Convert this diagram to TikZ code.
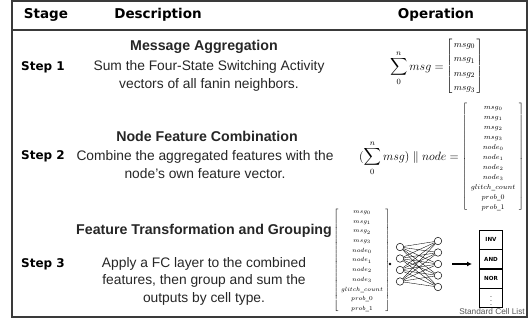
\documentclass[tikz,border=0pt]{standalone}
\usepackage{amsmath}
\usepackage[no-math]{fontspec}
\usetikzlibrary{arrows.meta,positioning}
\setmainfont{Liberation Sans}
\newfontfamily\verdfont{DejaVu Sans}
\definecolor{framegray}{HTML}{3A3A3A}
\definecolor{labelgray}{HTML}{555555}
\tikzset{
  frameline/.style={draw=framegray, line width=1.3pt},
  hdr/.style={font=\verdfont\bfseries\fontsize{13.5}{15}\selectfont, inner sep=0pt},
  steplbl/.style={font=\verdfont\bfseries\fontsize{12}{14}\selectfont, inner sep=0pt, anchor=west},
  ttl/.style={font=\bfseries\fontsize{14.2}{16}\selectfont, inner sep=0pt, text=black!85},
  dsc/.style={font=\fontsize{13.8}{17.5}\selectfont, align=center, inner sep=0pt, text=black!85},
  mth/.style={inner sep=0pt},
  neuron/.style={circle, draw, line width=0.5pt, minimum size=7.5pt, inner sep=0pt},
  cellbox/.style={draw, line width=0.5pt, minimum width=23pt, minimum height=19pt, inner sep=0pt,
    font=\verdfont\bfseries\fontsize{5.6}{6}\selectfont},
  wire/.style={line width=0.35pt},
}
% column vector of node features: #1 font size, #2 row height, #3 side padding
\newcommand{\featvec}[3]{%
  \fontsize{#1}{#2}\selectfont
  $\left[\begin{array}{@{\hspace{#3}}c@{\hspace{#3}}}
  msg_0\\ msg_1\\ msg_2\\ msg_3\\ node_0\\ node_1\\ node_2\\ node_3\\
  glitch\_count\\ prob\_0\\ prob\_1
  \end{array}\right]$}
\begin{document}
\begin{tikzpicture}[x=1pt,y=-1pt]
\useasboundingbox (0,0) rectangle (528,322);
% outer frame and header rule
\draw[frameline] (12,1) rectangle (527,317);
\draw[frameline] (12,30) -- (527,30);

% header
\node[hdr] (hstage) at (46,15) {Stage};
\node[hdr] (hdesc) at (158,15) {Description};
\node[hdr] (hop) at (436,15) {Operation};

% step labels
\node[steplbl] (s1) at (21,67) {Step 1};
\node[steplbl] (s2) at (21,156) {Step 2};
\node[steplbl] (s3) at (21,264) {Step 3};

% descriptions
\node[ttl] (t1) at (204,46.5) {Message Aggregation};
\node[dsc] (d1) at (209,75.75) {Sum the Four-State Switching Activity\\vectors of all fanin neighbors.};
\node[ttl] (t2) at (207,136) {Node Feature Combination};
\node[dsc] (d2) at (205,164.75) {Combine the aggregated features with the\\node's own feature vector.};
\node[ttl] (t3) at (204,231) {Feature Transformation and Grouping};
\node[dsc] (d3) at (204,281) {Apply a FC layer to the combined\\features, then group and sum the\\outputs by cell type.};

% step 1 operation
\node[mth, anchor=east, font=\fontsize{11.5}{14}\selectfont] (op1) at (444,68) {$\displaystyle\sum_{0}^{n} msg =$};
\node[mth, anchor=west] (v1) at (446,66) {\fontsize{9.5}{14.5}\selectfont
  $\left[\begin{array}{@{\hspace{1.5pt}}c@{\hspace{1.5pt}}} msg_0\\ msg_1\\ msg_2\\ msg_3\end{array}\right]$};

% step 2 operation
\node[mth, anchor=east, font=\fontsize{12}{14}\selectfont] (op2) at (459,158) {$\displaystyle(\sum_{0}^{n} msg)\parallel node =$};
\node[mth, anchor=west] (v2) at (462,157) {\featvec{6.6}{10}{3.5pt}};

% step 3 operation
\node[mth] (v3) at (362,260) {\featvec{6.3}{9.7}{2.5pt}};
\node[circle, fill, inner sep=0pt, minimum size=2.6pt] (dot) at (390,264) {};

% fully connected layer
\foreach \i/\y in {1/247,2/258.5,3/270,4/281.5}
  \node[neuron] (a\i) at (400,\y) {};
\foreach \j/\y in {1/241,2/252.5,3/264,4/275.5,5/287}
  \node[neuron] (b\j) at (438,\y) {};
\foreach \i in {1,...,4}
  \foreach \j in {1,...,5}
    \draw[wire] (a\i) -- (b\j);

% arrow to the cell list
\coordinate (arrS) at (452,264);
\coordinate (arrE) at (472,264);
\draw[line width=1.6pt, -{Latex[length=5pt,width=5pt]}] (arrS) -- (arrE);

% standard cell list
\node[cellbox] (c1) at (491,239.5) {INV};
\node[cellbox, below=0pt of c1] (c2) {AND};
\node[cellbox, below=0pt of c2] (c3) {NOR};
\node[cellbox, below=0pt of c3, font=\fontsize{7}{8}\selectfont] (c4) {$\vdots$};
\node[inner sep=0pt, anchor=east, text=labelgray, font=\fontsize{8.3}{9}\selectfont] (clab) at (525,312) {Standard Cell List};
\end{tikzpicture}
\end{document}
